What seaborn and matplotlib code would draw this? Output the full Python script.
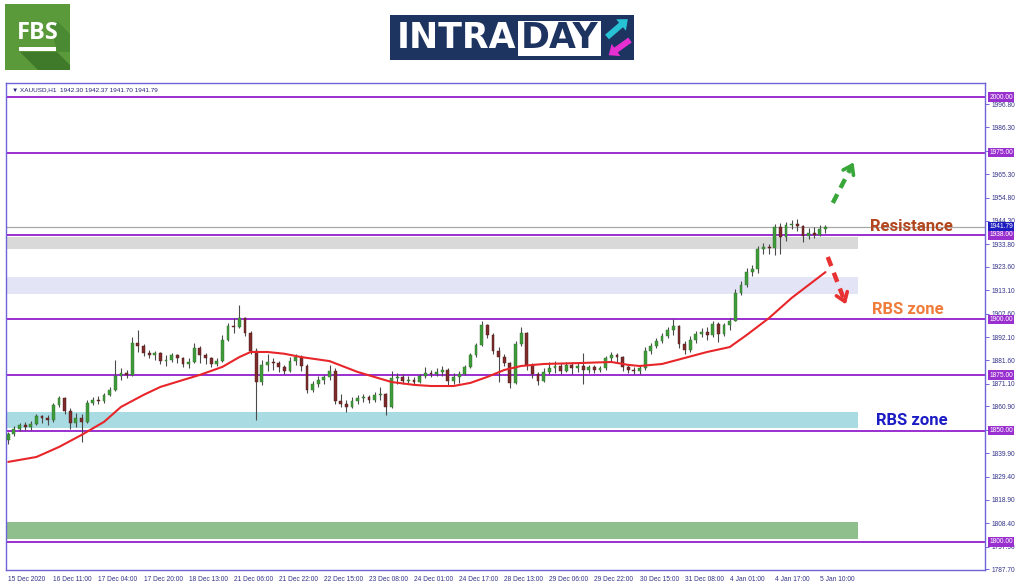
import matplotlib

matplotlib.use("Agg")
import matplotlib.pyplot as plt  # noqa: E402
from matplotlib.patches import FancyArrow, Polygon, Rectangle  # noqa: E402
import numpy as np  # noqa: E402
import seaborn as sns  # noqa: E402

sns.set_theme(style="white")
plt.rcParams["font.family"] = ["Liberation Sans", "DejaVu Sans"]

W, H = 1024, 587

# ---- data (XAUUSD H1, ~3h per candle here) ----
first_open = 1846.0
closes = [
    1848.5, 1851.0, 1852.5, 1851.5, 1853.0, 1856.5, 1855.5, 1855.0, 1861.5, 1864.5,
    1859.0, 1853.5, 1855.5, 1854.0, 1862.5, 1864.0, 1863.5, 1866.0, 1868.5, 1874.5,
    1876.0, 1875.0, 1889.5, 1888.0, 1885.0, 1884.0, 1885.0, 1881.5, 1882.0, 1884.0,
    1882.5, 1880.0, 1881.0, 1887.0, 1884.0, 1882.5, 1880.0, 1881.5, 1891.0, 1897.0,
    1896.5, 1900.5, 1894.0, 1886.0, 1872.0, 1879.5, 1881.0, 1880.5, 1878.5, 1877.0,
    1881.5, 1883.0, 1879.0, 1868.5, 1871.0, 1873.0, 1874.0, 1877.0, 1863.5, 1862.0,
    1860.5, 1863.5, 1864.5, 1865.0, 1864.0, 1866.0, 1866.5, 1860.5, 1873.5, 1874.0,
    1872.5, 1873.0, 1872.0, 1874.5, 1876.0, 1875.5, 1876.5, 1877.5, 1872.5, 1874.0,
    1875.5, 1878.5, 1884.0, 1888.5, 1897.5, 1893.0, 1886.0, 1883.0, 1880.5, 1871.5,
    1889.0, 1894.0, 1879.5, 1875.5, 1872.5, 1876.5, 1878.0, 1879.0, 1877.0, 1879.5,
    1878.0, 1879.0, 1877.5, 1878.5, 1877.5, 1878.0, 1882.5, 1884.0, 1883.0, 1878.5,
    1877.5, 1877.0, 1878.0, 1886.0, 1888.0, 1890.5, 1892.5, 1895.5, 1897.0, 1889.0,
    1886.5, 1891.0, 1893.5, 1894.5, 1893.0, 1898.0, 1893.5, 1897.5, 1899.5, 1912.0,
    1915.5, 1921.5, 1922.5, 1931.5, 1932.5, 1932.0, 1941.5, 1937.0, 1942.5, 1943.0,
    1942.0, 1937.5, 1939.0, 1938.0, 1940.5, 1941.79,
]
highs = [
    1849.5, 1852.0, 1853.5, 1854.0, 1854.5, 1857.5, 1857.0, 1857.0, 1862.5, 1865.5,
    1865.0, 1860.0, 1858.0, 1857.5, 1864.0, 1865.0, 1865.5, 1867.0, 1869.5, 1882.0,
    1878.0, 1877.5, 1892.0, 1895.5, 1889.0, 1886.5, 1886.0, 1885.5, 1884.0, 1885.0,
    1884.5, 1883.0, 1882.5, 1889.5, 1888.0, 1885.0, 1883.0, 1882.5, 1893.0, 1898.5,
    1900.5, 1906.5, 1901.0, 1895.0, 1887.0, 1882.0, 1884.5, 1882.5, 1881.5, 1879.5,
    1883.0, 1884.5, 1884.0, 1880.0, 1872.5, 1874.5, 1875.0, 1879.5, 1878.0, 1866.5,
    1864.0, 1865.0, 1866.0, 1866.5, 1866.0, 1867.5, 1869.5, 1867.0, 1877.0, 1876.0,
    1875.5, 1874.5, 1874.0, 1875.5, 1878.5, 1877.5, 1878.0, 1879.0, 1878.0, 1876.0,
    1877.0, 1879.5, 1885.0, 1889.5, 1899.5, 1898.0, 1894.0, 1887.5, 1884.5, 1881.0,
    1890.5, 1896.5, 1894.5, 1880.5, 1876.5, 1878.0, 1881.0, 1881.5, 1880.5, 1881.0,
    1881.0, 1880.5, 1885.0, 1879.5, 1879.5, 1879.0, 1883.5, 1885.5, 1885.0, 1883.5,
    1879.5, 1878.5, 1879.5, 1887.5, 1889.5, 1891.5, 1894.0, 1896.5, 1900.0, 1897.5,
    1890.5, 1892.5, 1895.0, 1896.0, 1896.5, 1899.5, 1899.0, 1898.5, 1900.5, 1913.5,
    1917.5, 1923.0, 1924.5, 1933.0, 1934.5, 1934.0, 1943.0, 1943.5, 1944.0, 1944.5,
    1945.0, 1942.5, 1941.0, 1941.5, 1942.5, 1942.37,
]
lows = [
    1844.0, 1847.5, 1850.0, 1850.5, 1850.5, 1852.5, 1853.5, 1852.5, 1854.0, 1860.5,
    1857.5, 1851.0, 1851.5, 1845.0, 1853.5, 1861.5, 1862.0, 1862.5, 1865.5, 1868.0,
    1873.0, 1873.5, 1874.5, 1885.5, 1883.5, 1882.5, 1882.0, 1880.0, 1879.0, 1881.0,
    1880.5, 1878.5, 1878.0, 1880.5, 1880.5, 1880.0, 1878.5, 1879.0, 1881.0, 1890.5,
    1894.0, 1896.0, 1892.5, 1884.5, 1855.0, 1870.5, 1877.0, 1877.5, 1876.5, 1875.5,
    1876.5, 1879.5, 1877.0, 1867.0, 1867.5, 1869.5, 1871.0, 1873.0, 1862.0, 1860.5,
    1858.5, 1860.0, 1862.0, 1863.0, 1862.5, 1863.0, 1864.0, 1857.0, 1860.0, 1871.0,
    1871.0, 1871.5, 1870.5, 1871.5, 1873.5, 1874.0, 1874.5, 1874.5, 1870.5, 1871.0,
    1871.5, 1875.0, 1878.0, 1883.0, 1888.0, 1891.5, 1884.5, 1872.0, 1879.0, 1869.0,
    1871.0, 1888.0, 1877.5, 1873.5, 1870.5, 1872.0, 1875.5, 1876.0, 1875.5, 1876.5,
    1875.5, 1876.5, 1871.0, 1876.0, 1876.0, 1876.5, 1877.5, 1881.5, 1881.0, 1877.0,
    1876.0, 1875.5, 1875.5, 1877.5, 1884.5, 1887.0, 1889.5, 1891.5, 1893.0, 1887.0,
    1884.5, 1885.5, 1889.5, 1892.0, 1891.0, 1892.0, 1890.0, 1892.5, 1895.5, 1903.0,
    1911.0, 1914.5, 1919.5, 1921.0, 1929.5, 1929.5, 1929.0, 1929.5, 1935.5, 1940.5,
    1940.0, 1935.0, 1936.0, 1936.5, 1937.5, 1939.0,
]

# moving average (red line), sampled at candle positions
ma_idx = [0, 5, 9, 13, 17, 20, 24, 27, 31, 34, 38, 41, 43, 46, 49, 52, 57, 62, 68, 72,
          75, 79, 82, 85, 88, 91, 95, 101, 107, 110, 112, 116, 120, 124, 128, 131, 135,
          139, 142, 145]
ma_val = [1836.0, 1838.2, 1842.7, 1848.1, 1854.0, 1860.7, 1866.1, 1869.7, 1872.8, 1875.1,
          1878.7, 1883.1, 1885.4, 1885.4, 1884.6, 1883.1, 1881.3, 1876.4, 1871.9, 1870.6,
          1870.1, 1870.1, 1871.5, 1874.2, 1877.3, 1879.1, 1880.0, 1880.4, 1880.9, 1879.6,
          1879.1, 1880.0, 1882.7, 1885.4, 1887.6, 1893.0, 1900.7, 1909.7, 1915.5, 1921.3]

time_labels = ["15 Dec 2020", "16 Dec 11:00", "17 Dec 04:00", "17 Dec 20:00", "18 Dec 13:00",
               "21 Dec 06:00", "21 Dec 22:00", "22 Dec 15:00", "23 Dec 08:00", "24 Dec 01:00",
               "24 Dec 17:00", "28 Dec 13:00", "29 Dec 06:00", "29 Dec 22:00", "30 Dec 15:00",
               "31 Dec 08:00", "4 Jan 01:00", "4 Jan 17:00", "5 Jan 10:00"]
price_ticks = [1996.80, 1986.30, 1975.80, 1965.30, 1954.80, 1944.30, 1933.80, 1923.60,
               1913.10, 1902.60, 1892.10, 1881.60, 1871.10, 1860.90, 1850.40, 1839.90,
               1829.40, 1818.90, 1808.40, 1797.90, 1787.70]
hidden_ticks = [1975.80, 1850.40]  # covered by the level boxes
levels = [2000.0, 1975.0, 1938.0, 1900.0, 1875.0, 1850.0, 1800.0]
zone_low = [1931.5, 1911.5, 1851.2, 1801.4]
zone_high = [1937.3, 1919.1, 1858.4, 1809.0]
zone_colors = ["#d9d9d9", "#e4e4f7", "#a9dbe2", "#8fbf8c"]
last_price = 1941.79
header = "XAUUSD,H1  1942.30 1942.37 1941.70 1941.79"

# ---- figure ----
fig = plt.figure(figsize=(W / 100, H / 100), dpi=100)
fig.patch.set_facecolor("white")
ax = fig.add_axes([6 / W, 1 - 570 / H, (985 - 6) / W, (570 - 83) / H])
ax.set_facecolor("white")

n = len(closes)
x = np.arange(n)
opens = np.array([first_open] + closes[:-1])
c = np.array(closes)
hi = np.maximum.reduce([np.array(highs), opens, c])
lo = np.minimum.reduce([np.array(lows), opens, c])
up = c >= opens

frame = "#6f63d8"
lvl_color = "#9a2fd0"

for lo_, hi_, col in zip(zone_low, zone_high, zone_colors):
    ax.axhspan(lo_, hi_, xmin=0, xmax=0.870, color=col, lw=0, zorder=1)
for lv in levels:
    ax.axhline(lv, color=lvl_color, lw=1.4, zorder=2)
ax.axhline(last_price, color="#a8a8a8", lw=0.9, zorder=2)

ax.vlines(x, lo, hi, color="#4a4a4a", lw=0.8, zorder=3)
body_lo = np.minimum(opens, c)
body_h = np.maximum(np.abs(c - opens), 0.35)
ax.bar(x[up], body_h[up], bottom=body_lo[up], width=0.5, color="#3f9b3a",
       edgecolor="#2f6f2a", linewidth=0.3, zorder=4)
ax.bar(x[~up], body_h[~up], bottom=body_lo[~up], width=0.5, color="#7d2b2b",
       edgecolor="#4a1a1a", linewidth=0.3, zorder=4)

sns.lineplot(x=ma_idx, y=ma_val, color="#e8262a", lw=1.5, ax=ax, zorder=5)

ax.set_xlim(-0.4, 173.3)
ax.set_ylim(1787.4, 2006.3)

# axes styling
for s in ax.spines.values():
    s.set_color(frame)
    s.set_linewidth(1.0)
ax.yaxis.tick_right()
ax.set_yticks(price_ticks)
ax.set_yticklabels(["" if v in hidden_ticks else f"{v:.2f}" for v in price_ticks])
ax.set_xticks(np.arange(0, 8 * len(time_labels), 8))
ax.set_xticklabels(time_labels, ha="left")
ax.tick_params(axis="both", colors=frame, labelcolor="#34348a", labelsize=4.8,
               length=3, width=0.7, pad=1.5)
ax.tick_params(axis="y", pad=2)
ax.grid(False)
ax.set_xlabel("")
ax.set_ylabel("")

# price boxes on the right axis
ytr = ax.get_yaxis_transform()
for lv in levels:
    ax.text(1.0045, lv, f"{lv:.2f}", transform=ytr, ha="left", va="center",
            fontsize=4.8, color="white", clip_on=False, zorder=10,
            bbox=dict(boxstyle="square,pad=0.18", fc=lvl_color, ec="none"))
ax.text(1.0045, last_price, f"{last_price:.2f}", transform=ytr, ha="left", va="center",
        fontsize=4.8, color="white", clip_on=False, zorder=11,
        bbox=dict(boxstyle="square,pad=0.18", fc="#1c1cbf", ec="none"))

ax.text(0.006, 0.987, "\u25bc " + header, transform=ax.transAxes, ha="left", va="center",
        fontsize=4.6, color="#23237a", family=["Liberation Sans", "DejaVu Sans"])

# annotations
ax.text(152.9, 1942.0, "Resistance", color="#b3461c", fontsize=12, fontweight="bold",
        family="Roboto", ha="left", va="center", zorder=8)
ax.text(153.2, 1904.3, "RBS zone", color="#f07c3c", fontsize=12, fontweight="bold",
        family="Roboto", ha="left", va="center", zorder=8)
ax.text(154.0, 1854.4, "RBS zone", color="#1c1cc4", fontsize=12, fontweight="bold",
        family="Roboto", ha="left", va="center", zorder=8)


def dashed_arrow(x0, y0, x1, y1, color):
    ax.plot([x0, x0 + (x1 - x0) * 0.85], [y0, y0 + (y1 - y0) * 0.85], color=color,
            lw=3.2, ls=(0, (2.2, 1.6)), solid_capstyle="butt", zorder=8)
    ax.annotate("", xy=(x1, y1), xytext=(x0 + (x1 - x0) * 0.8, y0 + (y1 - y0) * 0.8),
                arrowprops=dict(arrowstyle="->,head_length=0.5,head_width=0.35",
                                color=color, lw=2.6), zorder=8)


dashed_arrow(146.3, 1952.4, 150.2, 1971.7, "#39a639")
dashed_arrow(145.4, 1928.1, 148.8, 1905.6, "#e83232")

# ---- logos (pixel overlay) ----
ov = fig.add_axes([0, 0, 1, 1], zorder=20)
ov.set_xlim(0, W)
ov.set_ylim(H, 0)
ov.axis("off")
ov.patch.set_alpha(0)

ov.add_patch(Rectangle((5, 4), 65, 66, fc="#5a9a3a", ec="none"))
ov.add_patch(Polygon([(20, 52), (57, 52), (70, 65), (70, 70), (38, 70)], fc="#3f7a2a",
                     ec="none"))
ov.add_patch(Polygon([(50, 22), (58, 22), (70, 34), (70, 52), (57, 52)], fc="#4a8a32",
                     ec="none"))
ov.text(37.5, 33, "FBS", color="white", fontsize=17, fontweight="bold",
        family="Open Sans", ha="center", va="center")
ov.add_patch(Rectangle((19, 47), 37, 4, fc="white", ec="none"))

ov.add_patch(Rectangle((390, 15), 244, 45, fc="#1d3461", ec="none"))
ov.text(397, 38.5, "INTRA", color="white", fontsize=25, fontweight="bold",
        family="DejaVu Sans", ha="left", va="center")
ov.add_patch(Rectangle((518, 21), 83, 35, fc="white", ec="none"))
ov.text(559.5, 38.5, "DAY", color="#1d3461", fontsize=25, fontweight="bold",
        family="DejaVu Sans", ha="center", va="center")
ov.add_patch(FancyArrow(607, 37, 14, -12, width=6, head_width=15, head_length=9,
                        length_includes_head=False, fc="#27c3d4", ec="none"))
ov.add_patch(FancyArrow(630, 40, -14, 10, width=6, head_width=15, head_length=9,
                        length_includes_head=False, fc="#e62fd0", ec="none"))

fig.savefig("out.png", dpi=100, facecolor="white")
